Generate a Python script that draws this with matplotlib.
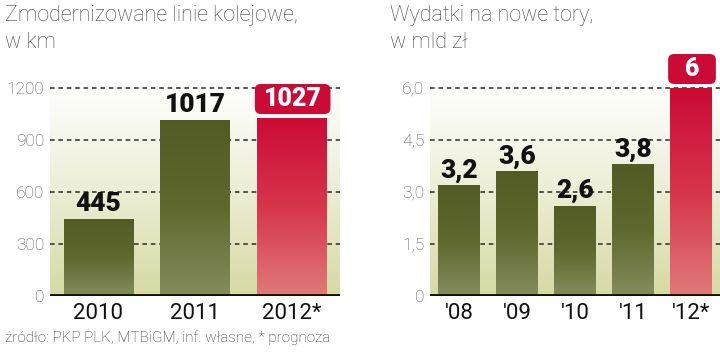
import numpy as np
import matplotlib
matplotlib.use("Agg")
import matplotlib.pyplot as plt
from matplotlib.colors import LinearSegmentedColormap
from matplotlib.patches import FancyBboxPatch

# data
km_years = ["2010", "2011", "2012*"]
km_values = [445, 1017, 1027]
km_ticks = [0, 300, 600, 900, 1200]

spend_years = ["'08", "'09", "'10", "'11", "'12*"]
spend_values = [3.2, 3.6, 2.6, 3.8, 6.0]
spend_labels = ["3,2", "3,6", "2,6", "3,8", "6"]
spend_ticks = [0, 1.5, 3.0, 4.5, 6.0]
spend_ticklabels = ["0", "1,5", "3,0", "4,5", "6,0"]

FONT = ["Roboto", "DejaVu Sans"]

bg_cmap = LinearSegmentedColormap.from_list("bg", ["#d6daa4", "#eceed6", "#ffffff"])
green_cmap = LinearSegmentedColormap.from_list("g", ["#848c5d", "#5f692e", "#525b24"])
red_cmap = LinearSegmentedColormap.from_list("r", ["#e07a78", "#d7354c", "#cc0a36"])
grad = np.linspace(0, 1, 256).reshape(-1, 1)


def draw_panel(ax, labels, values, vlabels, ticks, ticklabels, ymax, gridtop, h_px):
    x = np.arange(len(values))
    px_x = len(values) / 290.0
    px_y = ymax / h_px
    # background gradient
    ax.imshow(grad, cmap=bg_cmap, origin="lower", aspect="auto",
              extent=(-0.5, len(values) - 0.5, 0, gridtop * 1.02), zorder=0)
    for t in ticks[1:]:
        ax.axhline(t, color="#2a2a2a", lw=1.1, ls=(0, (3, 2.5)), zorder=1)
    bars = ax.bar(x, values, width=0.72, color="none", zorder=2)
    for i, b in enumerate(bars):
        cm = red_cmap if i == len(values) - 1 else green_cmap
        im = ax.imshow(grad, cmap=cm, origin="lower", aspect="auto",
                       extent=(b.get_x(), b.get_x() + b.get_width(), 0, b.get_height()),
                       zorder=2)
        im.set_clip_path(b)
    ax.set_xlim(-0.5, len(values) - 0.5)
    ax.set_ylim(0, ymax)
    ax.axhline(0, color="#111111", lw=3.5, zorder=3)
    for s in ax.spines.values():
        s.set_visible(False)
    ax.set_yticks(ticks)
    ax.set_yticklabels(ticklabels, family=FONT, fontsize=12.5, color="#555555", fontweight="light")
    ax.set_xticks(x)
    ax.set_xticklabels(labels, family=FONT, fontsize=16, color="#111111")
    ax.tick_params(length=0, axis="both")
    ax.tick_params(axis="y", pad=4)
    ax.tick_params(axis="x", pad=5)
    for i, (v, lab) in enumerate(zip(values, vlabels)):
        if i == len(values) - 1:
            b = bars[i]
            y0 = v + 4 * px_y
            box = FancyBboxPatch((b.get_x() - 2 * px_x, y0), b.get_width() + 6 * px_x, 30 * px_y,
                                 boxstyle="round,pad=0,rounding_size=%f" % (6 * px_x),
                                 mutation_aspect=px_y / px_x, fc="#cc0a36", ec="none",
                                 zorder=4, clip_on=False)
            ax.add_patch(box)
            ax.text(x[i] + px_x, y0 + 15 * px_y, lab, ha="center", va="center", family=FONT,
                    fontsize=18, fontweight="black", color="white", zorder=5, clip_on=False)
        else:
            ax.text(x[i], v + 2.5 * px_y, lab, ha="center", va="bottom", family=FONT,
                    fontsize=19, fontweight="black", color="#111111", zorder=5)


fig = plt.figure(figsize=(7.2, 3.56), dpi=100)
ax1 = fig.add_axes([50 / 720, 60 / 356, 290 / 720, 222 / 356])
draw_panel(ax1, km_years, km_values, [str(v) for v in km_values], km_ticks,
           [str(t) for t in km_ticks], 1200 * 222 / 208, 1200, 222)
ax2 = fig.add_axes([430 / 720, 60 / 356, 290 / 720, 216 / 356])
draw_panel(ax2, spend_years, spend_values, spend_labels, spend_ticks,
           spend_ticklabels, 6.0 * 216 / 208, 6.0, 216)

fig.text(5 / 720, 1 - 29 / 356, "Zmodernizowane linie kolejowe,\nw km", family=FONT,
         fontweight="light", fontsize=15.5, color="#444444", va="center", linespacing=1.35)
fig.text(390 / 720, 1 - 29 / 356, "Wydatki na nowe tory,\nw mld zł", family=FONT,
         fontweight="light", fontsize=15.5, color="#444444", va="center", linespacing=1.35)
fig.text(5 / 720, 1 - 338 / 356, "źródło: PKP PLK, MTBiGM, inf. własne, * prognoza",
         family=FONT, fontweight="light", fontsize=11, color="#333333", va="center")

fig.savefig("out.png", dpi=100)
